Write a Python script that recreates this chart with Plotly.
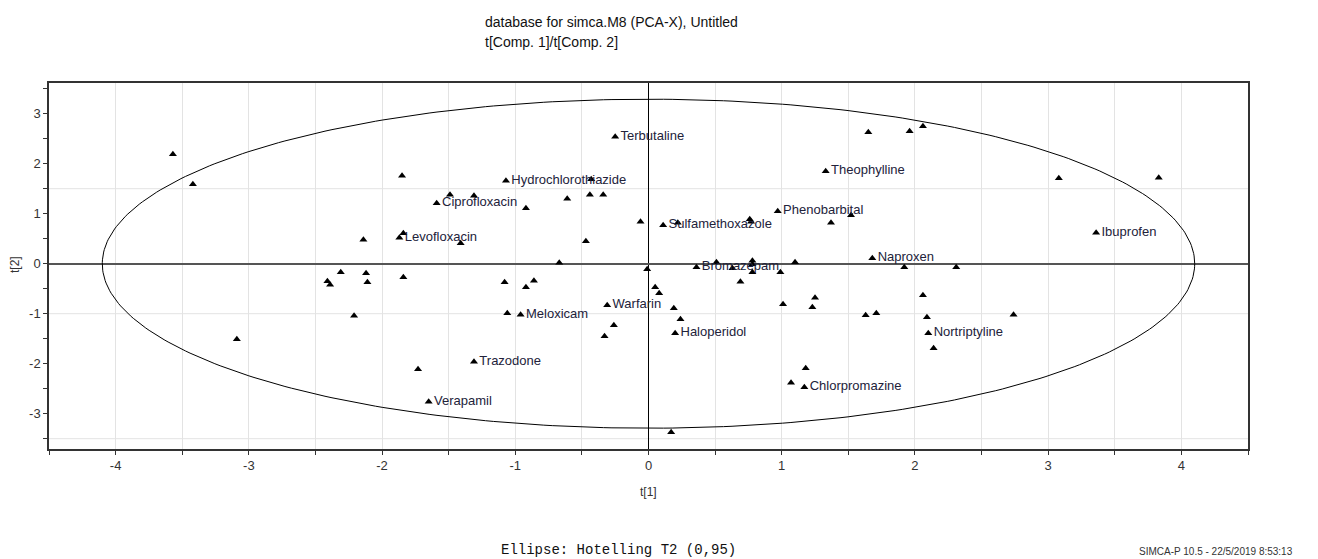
import numpy as np
import plotly.graph_objects as go

# PCA score plot: t[1] vs t[2]
T1 = [-3.57, -3.42, -1.85, -1.59, -2.14, -1.87, -1.84, -2.31, -2.41, -2.39,
      -2.12, -2.11, -1.84, -2.21, -3.09, -1.73, -1.65, -1.07, -0.43, -1.49,
      -1.31, -0.61, -0.44, -0.34, -0.92, -0.06, -0.47, -1.41, -0.67, -0.01,
      -1.08, -0.92, -0.86, 0.05, 0.08, -0.31, -1.06, -0.96, -0.26, -0.33,
      -1.31, -0.25, 0.11, 0.22, 0.76, 0.77, 0.97, 1.37, 1.52, 0.36,
      0.51, 0.63, 0.78, 0.78, 0.78, 0.99, 1.10, 0.69, 0.19, 0.24,
      0.20, 1.01, 1.25, 1.23, 0.17, 1.18, 1.07, 1.17, 1.63, 1.71,
      1.65, 1.96, 2.06, 1.33, 3.08, 3.83, 3.36, 1.68, 1.92, 2.31,
      2.06, 2.09, 2.74, 2.10, 2.14]
T2 = [2.19, 1.59, 1.76, 1.21, 0.48, 0.52, 0.61, -0.17, -0.35, -0.42,
      -0.19, -0.37, -0.27, -1.04, -1.51, -2.11, -2.76, 1.66, 1.69, 1.38,
      1.36, 1.30, 1.38, 1.38, 1.11, 0.84, 0.45, 0.41, 0.02, -0.11,
      -0.37, -0.47, -0.34, -0.47, -0.59, -0.83, -0.99, -1.02, -1.23, -1.45,
      -1.96, 2.54, 0.77, 0.82, 0.89, 0.84, 1.05, 0.82, 0.97, -0.07,
      0.03, -0.09, 0.06, -0.01, -0.17, -0.17, 0.03, -0.36, -0.89, -1.11,
      -1.39, -0.81, -0.68, -0.87, -3.37, -2.09, -2.38, -2.47, -1.03, -0.99,
      2.63, 2.65, 2.75, 1.85, 1.71, 1.72, 0.62, 0.11, -0.07, -0.07,
      -0.63, -1.07, -1.02, -1.39, -1.69]
NAMES = ["", "", "", "Ciprofloxacin", "", "Levofloxacin", "", "", "", "",
         "", "", "", "", "", "", "Verapamil", "Hydrochlorothiazide", "", "",
         "", "", "", "", "", "", "", "", "", "",
         "", "", "", "", "", "Warfarin", "", "Meloxicam", "", "",
         "Trazodone", "Terbutaline", "Sulfamethoxazole", "", "", "", "Phenobarbital", "", "", "Bromazepam",
         "", "", "", "", "", "", "", "", "", "",
         "Haloperidol", "", "", "", "", "", "", "Chlorpromazine", "", "",
         "", "", "", "Theophylline", "", "", "Ibuprofen", "Naproxen", "", "",
         "", "", "", "Nortriptyline", ""]

X_TICKS = [-4, -3, -2, -1, 0, 1, 2, 3, 4]
Y_TICKS = [-3, -2, -1, 0, 1, 2, 3]
GRID_Y = [-3.5, -1.0, 1.5]

# Hotelling T2 (0.95) ellipse semi-axes
ELL_A = 4.1
ELL_B = 3.29

X_RANGE = [-4.5, 4.5]
Y_RANGE = [-3.706, 3.614]

W, H = 1318, 559
ML, MR, MT, MB = 49, 70, 83, 110
PW, PH = W - ML - MR, H - MT - MB


def px(x):
    return (x - ML) / PW


def py(y):
    return (H - MB - y) / PH


theta = np.linspace(0, 2 * np.pi, 400)
ex = ELL_A * np.cos(theta)
ey = ELL_B * np.sin(theta)

fig = go.Figure()

fig.add_trace(go.Scatter(
    x=ex, y=ey, mode="lines",
    line=dict(color="black", width=1),
    hoverinfo="skip", showlegend=False,
))

fig.add_trace(go.Scatter(
    x=T1, y=T2, mode="markers+text",
    text=NAMES, textposition="middle right",
    textfont=dict(family="Arial, Liberation Sans", size=13, color="#22223a"),
    marker=dict(symbol="triangle-up", size=7, color="black"),
    showlegend=False,
))

for gy in GRID_Y:
    fig.add_shape(type="line", xref="paper", x0=0, x1=1, yref="y", y0=gy, y1=gy,
                  line=dict(color="#e3e3e3", width=1), layer="below")

font = "Arial, Liberation Sans"
annotations = [
    dict(text="database for simca.M8 (PCA-X), Untitled", x=px(483), y=py(22),
         xanchor="left", yanchor="middle", font=dict(family=font, size=14, color="#111")),
    dict(text="t[Comp. 1]/t[Comp. 2]", x=px(483), y=py(42),
         xanchor="left", yanchor="middle", font=dict(family=font, size=14, color="#111")),
    dict(text="t[1]", x=px(648), y=py(492), xanchor="center", yanchor="middle",
         font=dict(family=font, size=12, color="#333")),
    dict(text="t[2]", x=px(15), y=py(265), xanchor="center", yanchor="middle",
         textangle=-90, font=dict(family=font, size=12, color="#333")),
    dict(text="Ellipse: Hotelling T2 (0,95)", x=px(499), y=py(550), xanchor="left",
         yanchor="middle", font=dict(family="Liberation Mono, Courier New", size=14, color="#111")),
    dict(text="SIMCA-P 10.5 - 22/5/2019 8:53:13", x=px(1137), y=py(551), xanchor="left",
         yanchor="middle", font=dict(family=font, size=10, color="#333")),
]
for a in annotations:
    a.update(xref="paper", yref="paper", showarrow=False)

fig.update_layout(
    width=W, height=H,
    margin=dict(l=ML, r=MR, t=MT, b=MB, pad=0),
    plot_bgcolor="white", paper_bgcolor="white",
    annotations=annotations,
    xaxis=dict(
        range=X_RANGE, tickvals=X_TICKS, ticktext=[str(v) for v in X_TICKS],
        showgrid=True, gridcolor="#e3e3e3", gridwidth=1,
        minor=dict(dtick=0.5, tick0=-4.5, showgrid=True, gridcolor="#e3e3e3",
                   ticks="outside", ticklen=4, tickcolor="#333"),
        ticks="outside", ticklen=4, tickcolor="#333",
        showline=True, linecolor="#333", linewidth=1.5, mirror=True,
        zeroline=True, zerolinecolor="black", zerolinewidth=1,
        tickfont=dict(family=font, size=13, color="#333"),
    ),
    yaxis=dict(
        range=Y_RANGE, tickvals=Y_TICKS, ticktext=[str(v) for v in Y_TICKS],
        showgrid=False,
        minor=dict(dtick=0.5, tick0=-3.5, showgrid=False,
                   ticks="outside", ticklen=4, tickcolor="#333"),
        ticks="outside", ticklen=4, tickcolor="#333",
        showline=True, linecolor="#333", linewidth=1.5, mirror=True,
        zeroline=True, zerolinecolor="#555", zerolinewidth=2,
        tickfont=dict(family=font, size=13, color="#333"),
    ),
)

fig.write_html("out.html")
